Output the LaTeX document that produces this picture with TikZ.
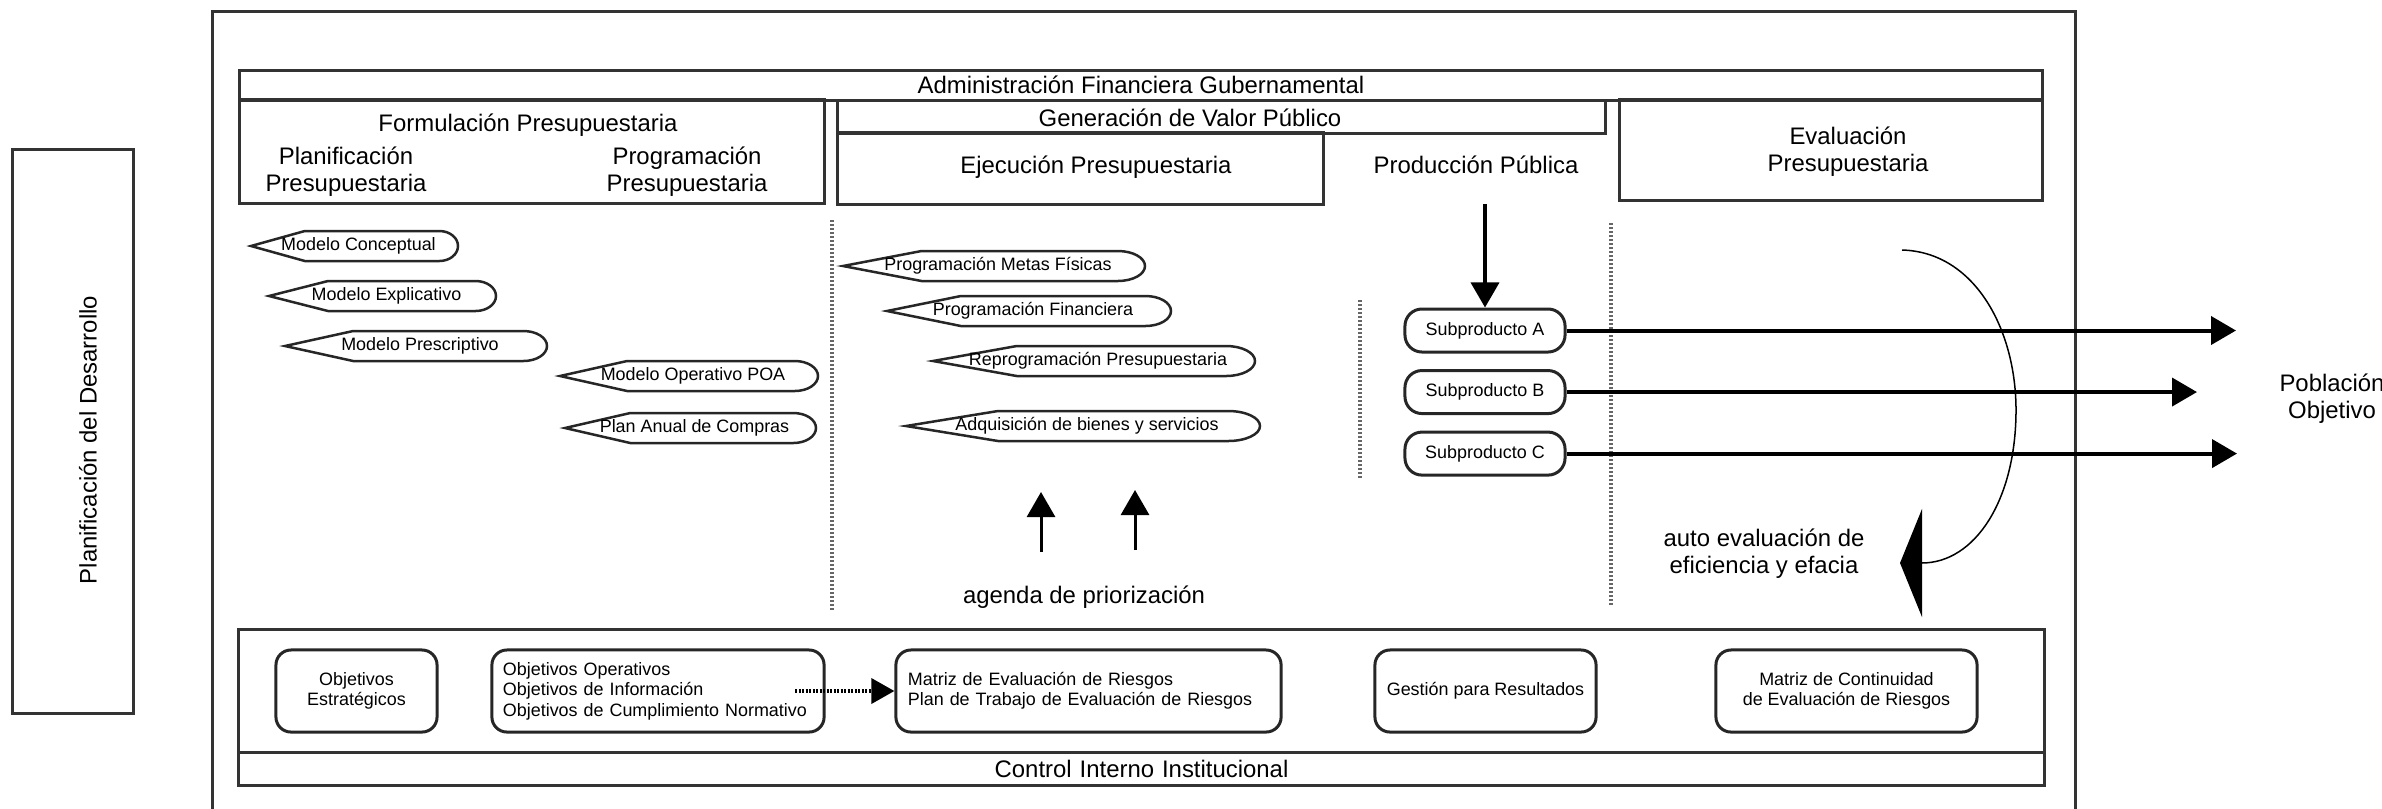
\documentclass[tikz,border=0pt]{standalone}
\usepackage{fontspec}
\setmainfont{Liberation Sans}
\usetikzlibrary{arrows.meta,positioning,calc,shapes.multipart}
\newcommand\grande{\fontsize{6.8}{7.7}\selectfont}
\newcommand\chica{\fontsize{5.1}{5.8}\selectfont}
\newlength\Cajawd
\setlength\Cajawd{18.05cm}
\newcommand\Caja[2]{%
  \parbox[c][#1][c]{\Cajawd}{\centering#2}}
% forma "display": nombre, punta x, centro y, ancho, texto
\newcommand\Forma[5]{%
  \draw[forma] (#2,#3) -- ++({0.26*#4},-15) -- ({#2+0.91*#4},{#3-15})
    .. controls +({0.05*#4},0) and +(0,-8.3) .. ({#2+#4},#3)
    .. controls +(0,8.3) and +({0.05*#4},0) .. ({#2+0.91*#4},{#3+15})
    -- ({#2+0.26*#4},{#3+15}) -- cycle;
  \node[etiq] (#1) at ({#2+#4/2+4},#3) {#5};}
\tikzset{
  caja/.style={draw=black!80, line width=0.03cm, rectangle, inner sep=0pt},
  titulo/.style={font=\grande, align=center, inner sep=0pt},
  etiq/.style={font=\chica, align=center, inner sep=0pt},
  redonda/.style={draw=black!85, line width=0.03cm, rounded corners=0.15cm,
    font=\chica, align=center, inner sep=0pt, minimum height=0.82cm},
  sub/.style={draw=black!85, line width=0.03cm, rounded corners=0.17cm,
    font=\chica, inner sep=0pt, minimum width=1.60cm, minimum height=0.43cm},
  forma/.style={draw=black!85, line width=0.025cm},
  separa/.style={draw=black!60, line width=0.035cm, dash pattern=on 0.02cm off 0.02cm},
  flecha/.style={-{Triangle[length=0.25cm,width=0.28cm]}, line width=0.04cm},
  punteada/.style={-{Triangle[length=0.23cm,width=0.25cm]}, line width=0.035cm,
    dash pattern=on 0.02cm off 0.015cm},
  cisplit/.style={
    rectangle split, rectangle split parts=2,
    draw=black!80, line width=0.03cm, inner sep=0pt,
    font=\grande, text width=18.05cm, align=center}
}

\begin{document}
\begin{tikzpicture}[x=0.01cm, y=-0.01cm]
  \useasboundingbox (0,0) rectangle (2382,808);

  % Marco general
  \draw[caja] (212,11) rectangle (2075,830);

  % Planificacion del desarrollo
  \node[caja, minimum width=1.20cm, minimum height=5.63cm] (plandes) at (73,431.5) {};
  \node[titulo, rotate=90] (plandestxt) at (88,440) {Planificación del Desarrollo};

  % Cabecera
  \node[caja, titulo, minimum width=18.02cm, minimum height=0.30cm] (afg) at (1141,85)
    {Administración Financiera Gubernamental};

  \node[caja, minimum width=5.84cm, minimum height=1.03cm] (formu) at (532,151.5) {};
  \node[titulo] (formutxt) at (528,125) {Formulación Presupuestaria};
  \node[titulo] (planpre) at (346,172) {Planificación\\Presupuestaria};
  \node[titulo] (progpre) at (687,172) {Programación\\Presupuestaria};

  \node[caja, minimum width=7.67cm, minimum height=0.33cm] (gvp) at (1221.5,116.5) {};
  \node[titulo] (gvptxt) at (1190,118) {Generación de Valor Público};
  \node[caja, minimum width=4.85cm, minimum height=0.71cm] (ejec) at (1080.5,168.5) {};
  \node[titulo] (ejectxt) at (1096,167) {Ejecución Presupuestaria};
  \node[titulo] (prod) at (1476,165) {Producción Pública};

  \node[caja, minimum width=4.22cm, minimum height=1.00cm] (evalp) at (1831,150) {};
  \node[titulo] (evaltxt) at (1848,152) {Evaluación\\Presupuestaria};

  % separadores
  \draw[separa] (832,220) -- (832,610);
  \draw[separa] (1360,300) -- (1360,480);
  \draw[separa] (1611,223) -- (1611,605);

  % Formulacion
  \Forma{mcon}{251}{246}{207}{Modelo Conceptual}
  \Forma{mexp}{269}{296}{227}{Modelo Explicativo}
  \Forma{mpre}{285}{346}{262}{Modelo Prescriptivo}
  \Forma{mpoa}{560}{376}{258}{Modelo Operativo POA}
  \Forma{mpac}{565}{428}{251}{Plan Anual de Compras}

  % Ejecucion
  \Forma{pmf}{843}{266}{302}{Programación Metas Físicas}
  \Forma{pfin}{887}{311}{284}{Programación Financiera}
  \Forma{repro}{933}{361}{322}{Reprogramación Presupuestaria}
  \Forma{adq}{906}{426}{354}{Adquisición de bienes y servicios}

  \node[titulo] (agenda) at (1084,597) {agenda de priorización};
  \coordinate (ag1) at (1041,552);
  \coordinate (ag1t) at (1041,492);
  \coordinate (ag2) at (1135,550);
  \coordinate (ag2t) at (1135,490);
  \draw[flecha, line width=0.03cm] (ag1) -- (ag1t);
  \draw[flecha, line width=0.03cm] (ag2) -- (ag2t);

  % Produccion publica
  \node[sub] (subA) at (1485,330.5) {Subproducto A};
  \node[sub, below=0.155cm of subA] (subB) {Subproducto B};
  \node[sub, below=0.155cm of subB] (subC) {Subproducto C};

  \coordinate (prodpie) at (1485,204);
  \draw[flecha, line width=0.035cm] (prodpie) -- (subA);

  \coordinate (finA) at (2236,0 |- subA.east);
  \coordinate (finB) at (2197,0 |- subB.east);
  \coordinate (finC) at (2237,0 |- subC.east);
  \draw[flecha] (subA) -- (finA);
  \draw[flecha] (subB) -- (finB);
  \draw[flecha] (subC) -- (finC);

  \node[titulo] (pobla) at (2332,399) {Población\\Objetivo};

  % auto evaluacion
  \node[titulo] (autoev) at (1764,554) {auto evaluación de\\eficiencia y efacia};
  \coordinate (ev0) at (1902,250);
  \coordinate (ev1) at (1900,563);
  \draw[line width=0.015cm, -{Triangle[length=0.22cm,width=1.08cm]}]
    (ev0) .. controls (1975,252) and (2016,330) .. (2016,410)
    .. controls (2016,500) and (1975,563) .. (ev1);

  % Control interno
  \node[cisplit, anchor=north west] (cii) at (237,628) {
    \nodepart{one} \Caja{1.20cm}{}
    \nodepart{two} \Caja{0.30cm}{Control Interno Institucional}};

  \node[redonda, minimum width=1.61cm] (objest) at (356.5,691) {Objetivos\\Estratégicos};
  \node[redonda, text width=3.10cm, inner xsep=0.11cm, align=left] (objop) at (658,691)
    {Objetivos Operativos\\Objetivos de Información\\Objetivos de Cumplimiento Normativo};
  \node[redonda, text width=3.61cm, inner xsep=0.12cm, align=left] (matev) at (1088.5,691)
    {Matriz de Evaluación de Riesgos\\Plan de Trabajo de Evaluación de Riesgos};
  \node[redonda, minimum width=2.21cm] (gespr) at (1485.5,691) {Gestión para Resultados};
  \node[redonda, minimum width=2.61cm] (matco) at (1846.5,691)
    {Matriz de Continuidad\\de Evaluación de Riesgos};

  \coordinate (objopd) at (795,691);
  \draw[punteada] (objopd) -- (matev);

\end{tikzpicture}
\end{document}
